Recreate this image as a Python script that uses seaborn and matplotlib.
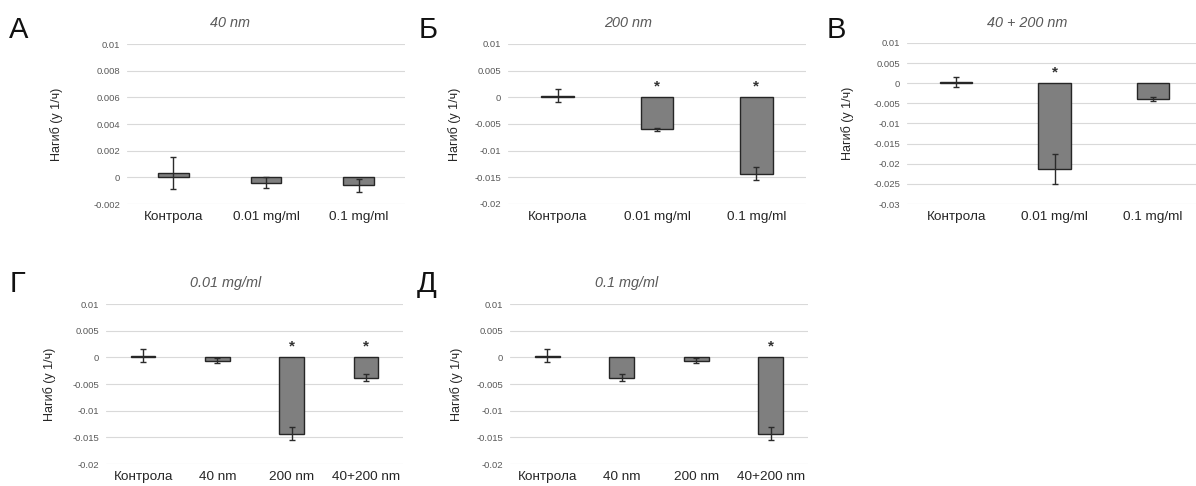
import numpy as np
import pandas as pd
import matplotlib
matplotlib.use("Agg")
import matplotlib.pyplot as plt
import seaborn as sns

# categories
cats_conc = ["Контрола", "0.01 mg/ml", "0.1 mg/ml"]
cats_size = ["Контрола", "40 nm", "200 nm", "40+200 nm"]

# panel А: 40 nm
vals_40 = [0.0003, -0.0004, -0.0006]
err_40 = [0.0012, 0.0004, 0.0005]
star_40 = [False, False, False]

# panel Б: 200 nm
vals_200 = [0.0003, -0.0060, -0.0143]
err_200 = [0.0012, 0.0003, 0.0012]
star_200 = [False, True, True]

# panel В: 40 + 200 nm
vals_mix = [0.0003, -0.0213, -0.0039]
err_mix = [0.0012, 0.0038, 0.0005]
star_mix = [False, True, False]

# panel Г: 0.01 mg/ml
vals_001 = [0.0003, -0.0006, -0.0143, -0.0038]
err_001 = [0.0012, 0.0004, 0.0012, 0.0006]
star_001 = [False, False, True, True]

# panel Д: 0.1 mg/ml
vals_01 = [0.0003, -0.0038, -0.0006, -0.0143]
err_01 = [0.0012, 0.0006, 0.0004, 0.0012]
star_01 = [False, False, False, True]

sns.set_theme(style="white")
plt.rcParams['font.family'] = ['Liberation Sans', 'DejaVu Sans']

W, H = 1196, 486
fig = plt.figure(figsize=(W / 100, H / 100), dpi=100)


def px_axes(left, top, right, bottom):
    return fig.add_axes([left / W, 1 - bottom / H, (right - left) / W, (bottom - top) / H])


def fmt(v):
    v = round(v, 4)
    if v == 0:
        return "0"
    return f"{v:g}"


def panel(box, cats, vals, errs, stars, ymin, ymax, step, title, title_xy, letter, letter_xy, ylab_x):
    ax = px_axes(*box)
    df = pd.DataFrame({"cat": cats, "val": vals})
    sns.barplot(data=df, x="cat", y="val", order=cats, color="#7f7f7f", saturation=1,
                edgecolor="#262626", linewidth=1, width=0.33, ax=ax)
    ax.errorbar(np.arange(len(cats)), vals, yerr=errs, fmt="none", ecolor="#2b2b2b",
                elinewidth=1, capsize=2.5, capthick=1, zorder=4)
    for i, s in enumerate(stars):
        if s:
            ax.annotate("*", xy=(i, 0), xytext=(0, 8), textcoords="offset points",
                        ha="center", va="center", fontsize=11, fontweight="bold",
                        color="#333333")
    ticks = np.arange(ymin, ymax + step / 2, step)
    ax.set_ylim(ymin, ymax)
    ax.set_xlim(-0.5, len(cats) - 0.5)
    ax.set_yticks(ticks)
    ax.set_yticklabels([fmt(t) for t in ticks])
    ax.grid(axis="y", color="#d9d9d9", lw=0.8)
    ax.grid(axis="x", visible=False)
    ax.set_axisbelow(True)
    for sp in ax.spines.values():
        sp.set_visible(False)
    ax.tick_params(axis="y", length=0, pad=5, labelsize=6.8, labelcolor="#595959")
    ax.tick_params(axis="x", length=0, pad=5, labelsize=9.7, labelcolor="#262626")
    ax.set_xlabel("")
    ax.set_ylabel("")
    fig.text(title_xy[0] / W, 1 - title_xy[1] / H, title, ha="center", va="center",
             fontsize=10.4, style="italic", color="#595959")
    fig.text(letter_xy[0] / W, 1 - letter_xy[1] / H, letter, ha="left", va="baseline",
             fontsize=21, color="#111111")
    yc = (box[1] + box[3]) / 2
    fig.text(ylab_x / W, 1 - yc / H, "Нагиб (у 1/ч)", rotation=90, ha="center", va="center",
             fontsize=9, color="#262626")
    return ax


panel((127, 44, 405, 204), cats_conc, vals_40, err_40, star_40, -0.002, 0.01, 0.002,
      "40 nm", (230, 23), "А", (9, 38), 57)
panel((508, 44, 806, 204), cats_conc, vals_200, err_200, star_200, -0.02, 0.01, 0.005,
      "200 nm", (628, 23), "Б", (419, 38), 455)
panel((907, 43, 1202, 204), cats_conc, vals_mix, err_mix, star_mix, -0.03, 0.01, 0.005,
      "40 + 200 nm", (1027, 23), "В", (827, 38), 848)
panel((106, 304, 403, 464), cats_size, vals_001, err_001, star_001, -0.02, 0.01, 0.005,
      "0.01 mg/ml", (226, 283), "Г", (10, 292), 50)
panel((510, 304, 808, 464), cats_size, vals_01, err_01, star_01, -0.02, 0.01, 0.005,
      "0.1 mg/ml", (627, 283), "Д", (417, 292), 457)

fig.savefig("out.png", dpi=100)
